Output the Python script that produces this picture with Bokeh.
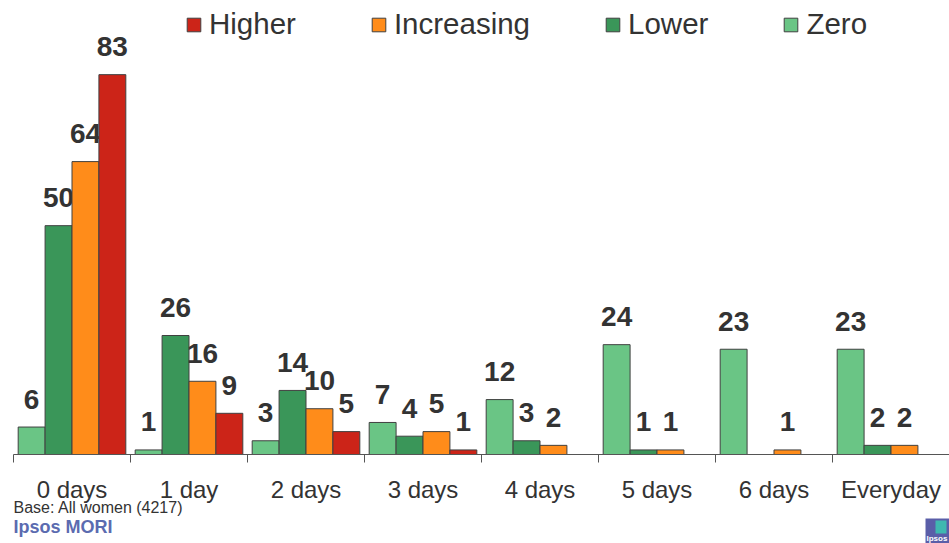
import numpy as np
from bokeh.plotting import figure
from bokeh.layouts import column
from bokeh.models import (ColumnDataSource, FixedTicker, Legend, LegendItem, Label,
                          Range1d, LinearAxis)
from bokeh.core.properties import value
from bokeh.embed import file_html
from bokeh.resources import INLINE

categories = ["0 days", "1 day", "2 days", "3 days", "4 days", "5 days", "6 days", "Everyday"]
zero = [6, 1, 3, 7, 12, 24, 23, 23]
lower = [50, 26, 14, 4, 3, 1, None, 2]
increasing = [64, 16, 10, 5, 2, 1, 1, 2]
higher = [83, 9, 5, 1, None, None, None, None]

series_names = ["Zero", "Lower", "Increasing", "Higher"]
series_values = [zero, lower, increasing, higher]
series_colors = ["#6AC585", "#3A9659", "#FF8C1A", "#CC2418"]
offsets = [-0.345, -0.115, 0.115, 0.345]
bar_width = 0.23

FONT = "Liberation Sans"
TXT = "#333333"

n = len(categories)
centers = [i + 0.5 for i in range(n)]

p = figure(width=949, height=474, output_backend="svg", toolbar_location=None,
           x_range=Range1d(0, n), y_range=Range1d(0, 99.2),
           x_axis_location=None, y_axis_location=None,
           min_border_left=13, min_border_right=0, min_border_top=0, min_border_bottom=20)
p.outline_line_color = None
p.xgrid.visible = False
p.ygrid.visible = False

xaxis = LinearAxis(ticker=FixedTicker(ticks=[], minor_ticks=list(range(n + 1))))
xaxis.axis_line_color = "#555555"
xaxis.axis_line_width = 1
xaxis.major_tick_line_color = None
xaxis.major_tick_out = 0
xaxis.major_tick_in = 0
xaxis.minor_tick_line_color = "#555555"
xaxis.minor_tick_out = 8
xaxis.minor_tick_in = 0
xaxis.major_label_standoff = 2
p.add_layout(xaxis, "below")

renderers = {}
for name, vals, col, off in zip(series_names, series_values, series_colors, offsets):
    xs = [i + 0.5 + off for i in range(n)]
    tops = [np.nan if v is None else v for v in vals]
    src = ColumnDataSource(dict(x=xs, top=tops))
    r = p.vbar(x="x", top="top", width=bar_width, bottom=0, source=src,
               fill_color=col, line_color="#404040", line_width=1)
    renderers[name] = r
    lx = [x for x, v in zip(xs, vals) if v is not None]
    ly = [v for v in vals if v is not None]
    lsrc = ColumnDataSource(dict(x=lx, y=ly, t=[str(v) for v in ly]))
    p.text(x="x", y="y", text="t", source=lsrc, text_align="center",
           text_baseline="alphabetic", y_offset=-28, text_font=value(FONT),
           text_font_style="bold", text_font_size="28px", text_color=TXT)

legend_order = ["Higher", "Increasing", "Lower", "Zero"]
legend = Legend(items=[LegendItem(label=nm, renderers=[renderers[nm]]) for nm in legend_order],
                orientation="horizontal", location=(172, 413), spacing=74,
                glyph_width=17, glyph_height=17, label_standoff=7,
                label_text_font=FONT, label_text_font_size="29.5px", label_text_color=TXT,
                padding=0, margin=0, border_line_color=None, background_fill_alpha=0)
p.add_layout(legend, "center")

# footer strip: category labels, base note, brand and logo
f = figure(width=949, height=69, output_backend="svg", toolbar_location=None,
           x_range=Range1d(0, n), y_range=Range1d(0, 69),
           x_axis_location=None, y_axis_location=None,
           min_border_left=13, min_border_right=0, min_border_top=0, min_border_bottom=0)
f.outline_line_color = None
f.xgrid.visible = False
f.ygrid.visible = False
f.extra_x_ranges = {"px": Range1d(0, 936)}

cat_src = ColumnDataSource(dict(x=centers, t=categories))
f.text(x="x", y=54, text="t", source=cat_src, text_align="center", text_baseline="middle",
       text_font=value(FONT), text_font_size="24px", text_color=TXT)

f.add_layout(Label(x=0, y=36, x_units="screen", y_units="screen", text="Base: All women (4217)",
                   text_baseline="middle", text_font=FONT, text_font_size="16px",
                   text_color=TXT))
f.add_layout(Label(x=0, y=17, x_units="screen", y_units="screen", text="Ipsos MORI",
                   text_baseline="middle", text_font=FONT, text_font_size="18px",
                   text_font_style="bold", text_color="#5B6BB0"))
f.quad(left=912, right=936, bottom=0, top=25, fill_color="#5A5EA8", line_color=None,
       x_range_name="px")
f.quad(left=922, right=933, bottom=10, top=23, fill_color="#3FB8B0", line_color=None,
       x_range_name="px")
f.add_layout(Label(x=913, y=1, x_units="screen", y_units="screen", text="Ipsos",
                   text_baseline="bottom", text_font=FONT, text_font_size="8px",
                   text_font_style="bold", text_color="white"))

open("out.html", "w").write(file_html(column(p, f, spacing=0), INLINE))
